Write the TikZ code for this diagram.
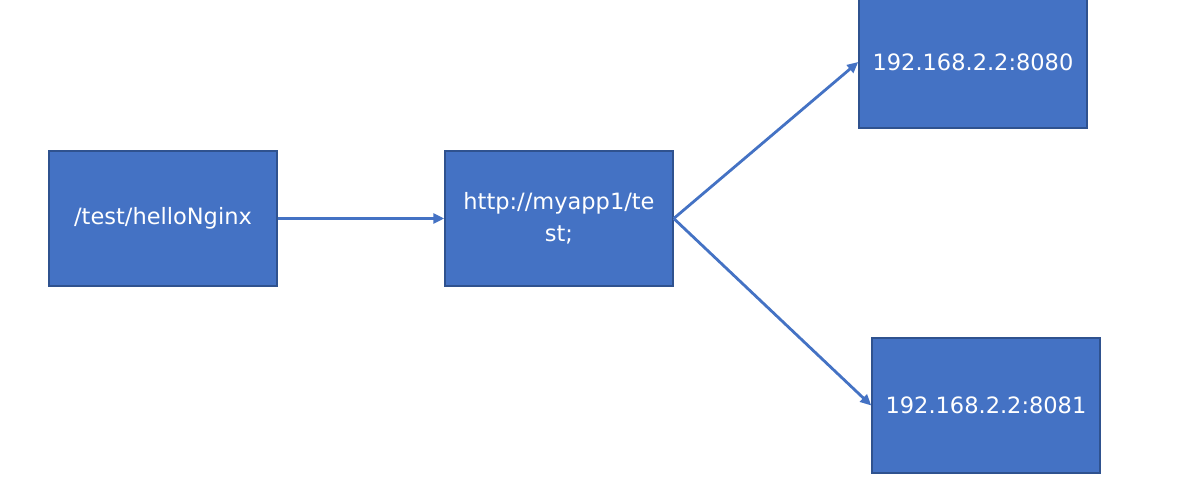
\documentclass[tikz,border=0pt]{standalone}
\usepackage{fontspec}
\setmainfont{DejaVu Sans}
\usetikzlibrary{arrows.meta}
\definecolor{boxfill}{HTML}{4472C4}
\definecolor{boxline}{HTML}{2F528F}
\definecolor{arrowc}{HTML}{4472C4}
\begin{document}
\begin{tikzpicture}[x=1pt,y=-1pt,
  box/.style={draw=boxline,line width=1.5pt,fill=boxfill,minimum width=228pt,minimum height=135pt,
    inner sep=0pt,text=white,font=\fontsize{22.5}{32}\selectfont,align=center},
  conn/.style={draw=arrowc,line width=2.8pt,-{Triangle[length=11pt,width=10pt]}}]
\useasboundingbox[fill=white] (0,0) rectangle (1202,502);
\node[box] (a) at (163,218.5) {/test/helloNginx};
\node[box] (b) at (559,218.5) {http://myapp1/te\\st;};
\node[box,minimum height=132pt] (c) at (973,62) {192.168.2.2:8080};
\node[box] (d) at (986,405.5) {192.168.2.2:8081};
\draw[conn] (a.east) -- (b.west);
\draw[conn] (b.east) -- (c.west);
\draw[conn] (b.east) -- (d.west);
\end{tikzpicture}
\end{document}
